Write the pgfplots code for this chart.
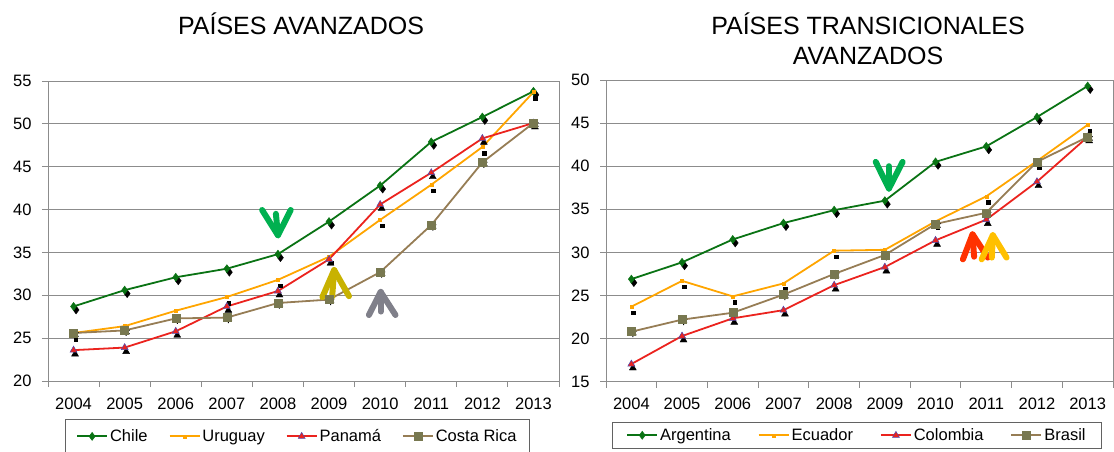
\documentclass[border=0pt]{standalone}
\usepackage{fontspec}
\setmainfont{Liberation Sans}
\usepackage{pgfplots}
\pgfplotsset{compat=1.18}
\definecolor{cgreen}{RGB}{10,115,20}
\definecolor{corange}{RGB}{255,165,0}
\definecolor{cred}{RGB}{235,35,30}
\definecolor{cbrown}{RGB}{150,125,85}
\definecolor{csq}{RGB}{120,120,80}
\definecolor{agreen}{RGB}{0,176,80}
\definecolor{aolive}{RGB}{200,178,0}
\definecolor{agray}{RGB}{128,128,138}
\definecolor{ared}{RGB}{255,50,0}
\definecolor{ayellow}{RGB}{255,192,0}
\definecolor{gridc}{RGB}{140,140,140}
\tikzset{arrw/.style={line width=6pt, line cap=round, line join=round}}
\pgfplotsset{
  mystyle/.style={
    scale only axis,
    xmin=-0.5, xmax=9.5,
    xtick={-0.5,0.5,...,9.5}, xticklabels={},
    extra x ticks={0,1,2,3,4,5,6,7,8,9},
    extra x tick labels={2004,2005,2006,2007,2008,2009,2010,2011,2012,2013},
    extra x tick style={major tick length=0pt, grid=none},
    ymajorgrids, grid style={gridc, line width=0.9pt},
    axis line style={gridc, line width=0.9pt},
    tick style={gridc, line width=0.9pt},
    tick align=outside, tick pos=left, major tick length=6pt,
    ticklabel style={font=\fontsize{16.5}{18}\selectfont},
    xticklabel style={yshift=-13pt},
    yticklabel style={xshift=-7pt},
    /pgf/number format/assume math mode=true,
    legend columns=4,
    legend style={draw=gridc!70!black, line width=0.9pt, font=\fontsize{16.5}{18}\selectfont},
    legend image code/.code={\draw[mark repeat=2,mark phase=2,##1] plot coordinates {(0pt,0pt) (15pt,0pt) (30pt,0pt)};},
  },
  sA/.style={cgreen, line width=1.8pt, mark=diamond*, mark size=4pt, mark options={fill=cgreen, draw=cgreen, line width=0.5pt}},
  sB/.style={corange, line width=1.8pt, mark=square*, mark size=1.5pt, mark options={fill=corange, draw=corange, line width=0.5pt}},
  sC/.style={cred, line width=1.8pt, mark=triangle*, mark size=4pt, mark options={fill=cred, draw=blue!40!gray, line width=0.5pt}},
  sD/.style={cbrown, line width=1.8pt, mark=square*, mark size=4pt, mark options={fill=csq, draw=csq, line width=0.5pt}},
  shA/.style={only marks, forget plot, mark=diamond*, mark size=4pt, black, mark options={xshift=2.5pt, yshift=-3.5pt}},
  shB/.style={only marks, forget plot, mark=square*, mark size=1.8pt, black, mark options={xshift=2pt, yshift=-6pt}},
  shC/.style={only marks, forget plot, mark=triangle*, mark size=4pt, black, mark options={xshift=1.5pt, yshift=-4pt}},
  shD/.style={only marks, forget plot, mark=asterisk, mark size=4pt, black, mark options={xshift=1.5pt, yshift=-1.5pt, line width=1pt}},
}
\pgfplotstableread{
x Chile Uruguay Panama Costa
0 28.7 25.6 23.6 25.6
1 30.6 26.4 23.9 25.9
2 32.1 28.2 25.8 27.3
3 33.1 29.8 28.7 27.4
4 34.8 31.8 30.5 29.1
5 38.6 34.5 34.2 29.5
6 42.8 38.8 40.6 32.7
7 47.9 42.9 44.3 38.2
8 50.8 47.3 48.3 45.5
9 53.8 53.7 50.1 50.1
}\tleft
\pgfplotstableread{
x Argentina Ecuador Colombia Brasil
0 26.9 23.7 17.05 20.8
1 28.85 26.7 20.3 22.2
2 31.5 24.9 22.35 23.0
3 33.4 26.4 23.3 25.1
4 34.9 30.2 26.2 27.5
5 36.0 30.3 28.3 29.7
6 40.5 33.6 31.4 33.3
7 42.3 36.5 33.8 34.6
8 45.7 40.6 38.2 40.5
9 49.3 44.8 43.4 43.4
}\tright
\begin{document}
\begin{tikzpicture}[x=1pt,y=1pt]
\useasboundingbox (0,0) rectangle (1114,451);
\node[font=\fontsize{25}{30}\selectfont] at (301,427) {PAÍSES AVANZADOS};
\node[font=\fontsize{25}{30}\selectfont, align=center] at (868,412) {PAÍSES TRANSICIONALES\\AVANZADOS};
\begin{axis}[mystyle, at={(48pt,70pt)}, anchor=south west, width=511pt, height=300pt,
  ymin=20, ymax=55, ytick={20,25,...,55},
  legend style={at={(0.488,-0.127)}, anchor=north, inner xsep=11pt, inner ysep=8pt,
      /tikz/every even column/.append style={column sep=19pt}}]
\addplot[shA] table[x=x,y=Chile]{\tleft};
\addplot[shB] table[x=x,y=Uruguay]{\tleft};
\addplot[shC] table[x=x,y=Panama]{\tleft};
\addplot[shD] table[x=x,y=Costa]{\tleft};
\addplot[sA] table[x=x,y=Chile]{\tleft};
\addplot[sB] table[x=x,y=Uruguay]{\tleft};
\addplot[sC] table[x=x,y=Panama]{\tleft};
\addplot[sD] table[x=x,y=Costa]{\tleft};
\legend{Chile,Uruguay,Panamá,Costa Rica}
\draw[arrw, agreen] (axis cs:3.69,39.95) -- (axis cs:4.0,37.0) -- (axis cs:4.25,39.95);
\draw[arrw, agreen] (axis cs:3.96,39.5) -- (axis cs:4.0,37.0);
\draw[arrw, aolive] (axis cs:4.87,29.8) -- (axis cs:5.1,32.95) -- (axis cs:5.39,29.9);
\draw[arrw, aolive] (axis cs:5.06,29.8) -- (axis cs:5.1,32.95);
\draw[arrw, agray] (axis cs:5.78,27.7) -- (axis cs:6.01,30.4) -- (axis cs:6.30,27.7);
\draw[arrw, agray] (axis cs:6.01,28.1) -- (axis cs:6.01,30.4);
\end{axis}
\begin{axis}[mystyle, at={(606pt,69.3pt)}, anchor=south west, width=507pt, height=301.7pt,
  ymin=15, ymax=50, ytick={15,20,...,50},
  legend style={at={(0.495,-0.134)}, anchor=north, inner xsep=14pt, inner ysep=4pt,
      /tikz/every even column/.append style={column sep=25pt}}]
\addplot[shA] table[x=x,y=Argentina]{\tright};
\addplot[shB] table[x=x,y=Ecuador]{\tright};
\addplot[shC] table[x=x,y=Colombia]{\tright};
\addplot[shD] table[x=x,y=Brasil]{\tright};
\addplot[sA] table[x=x,y=Argentina]{\tright};
\addplot[sB] table[x=x,y=Ecuador]{\tright};
\addplot[sC] table[x=x,y=Colombia]{\tright};
\addplot[sD] table[x=x,y=Brasil]{\tright};
\legend{Argentina,Ecuador,Colombia,Brasil}
\draw[arrw, agreen] (axis cs:4.82,40.5) -- (axis cs:5.08,37.4) -- (axis cs:5.35,40.5);
\draw[arrw, agreen] (axis cs:5.08,40.0) -- (axis cs:5.08,37.4);
\draw[arrw, ared] (axis cs:6.54,29.2) -- (axis cs:6.73,32.1) -- (axis cs:7.03,29.4);
\draw[arrw, ared] (axis cs:6.76,29.5) -- (axis cs:6.73,32.1);
\draw[arrw, ayellow] (axis cs:6.91,29.2) -- (axis cs:7.13,32.0) -- (axis cs:7.40,29.4);
\draw[arrw, ayellow] (axis cs:7.11,29.4) -- (axis cs:7.13,32.0);
\end{axis}
\end{tikzpicture}
\end{document}
